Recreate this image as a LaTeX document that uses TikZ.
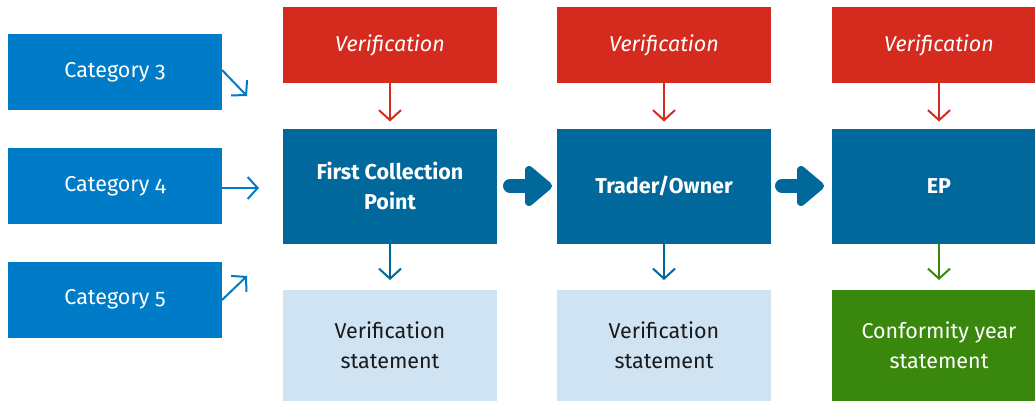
\documentclass[tikz,border=0pt]{standalone}
\usepackage{fontspec}
\setmainfont{Fira Sans}[Numbers=OldStyle]
\usetikzlibrary{arrows.meta}
\definecolor{catblue}{HTML}{007BC7}
\definecolor{darkblue}{HTML}{01689B}
\definecolor{verred}{HTML}{D52B1E}
\definecolor{paleblue}{HTML}{CFE3F3}
\definecolor{rgreen}{HTML}{39870C}
\definecolor{darktext}{HTML}{1A1A1A}
\tikzset{
  box/.style={inner sep=0pt, outer sep=0pt, align=center, font=\fontsize{21.5}{30}\selectfont},
  catbox/.style={box, fill=catblue, text=white, minimum width=214pt, minimum height=76pt},
  verbox/.style={box, fill=verred, text=white, minimum width=214pt, minimum height=76pt, font=\fontsize{21.5}{30}\selectfont\itshape},
  mainbox/.style={box, fill=darkblue, text=white, minimum width=214pt, minimum height=115pt, font=\fontsize{21.5}{30}\selectfont\bfseries},
  resbox/.style={box, fill=paleblue, text=darktext, minimum width=214pt, minimum height=111pt},
  conbox/.style={box, fill=rgreen, text=white, minimum width=214pt, minimum height=111pt},
  thin arrow/.style={line width=2pt, -{Straight Barb[length=10pt,width=22pt,line width=2pt]}},
  bigshaft/.style={line width=14pt, line cap=round, draw=darkblue},
  bighead/.style={fill=darkblue, draw=darkblue, line width=8pt, line join=round},
}
\begin{document}
\begin{tikzpicture}[x=1pt,y=-1pt]
\useasboundingbox (0,0) rectangle (1035,401);
\begin{scope}
\clip (0,0) rectangle (1035,401);

% category boxes on the left
\node[catbox] (c3) at (115,72) {Category 3};
\node[catbox] (c4) at (115,186) {Category 4};
\node[catbox] (c5) at (115,299.5) {Category 5};

% verification boxes
\node[verbox] (v1) at (390,45) {Verification};
\node[verbox] (v2) at (664,45) {Verification};
\node[verbox] (v3) at (939,45) {Verification};

% main chain
\node[mainbox] (m1) at (390,186) {First Collection\\Point};
\node[mainbox] (m2) at (664,186) {Trader/Owner};
\node[mainbox] (m3) at (939,186) {EP};

% statements
\node[resbox] (s1) at (390,345.5) {Verification\\statement};
\node[resbox] (s2) at (664,345.5) {Verification\\statement};
\node[conbox] (s3) at (939,345.5) {Conformity year\\statement};

% category inputs
\coordinate (e3) at (247,96);
\coordinate (e4) at (259,188);
\coordinate (e5) at (247,276);
\draw[thin arrow, catblue] (c3.east |- 0,70) -- (e3);
\draw[thin arrow, catblue] (c4.east |- 0,188) -- (e4);
\draw[thin arrow, catblue] (c5.east |- 0,300) -- (e5);

% verification arrows
\foreach \i in {1,2,3} {
  \draw[thin arrow, verred] (v\i.south) -- ([yshift=7pt]m\i.north);
}

% statement arrows
\draw[thin arrow, darkblue] (m1.south) -- ([yshift=10pt]s1.north);
\draw[thin arrow, darkblue] (m2.south) -- ([yshift=10pt]s2.north);
\draw[thin arrow, rgreen] (m3.south) -- ([yshift=10pt]s3.north);

% thick chain arrows
\draw[bigshaft] ([xshift=13pt]m1.east) -- ([xshift=45pt]m1.east);
\filldraw[bighead] ([xshift=32pt,yshift=-16pt]m1.east) -- ([xshift=51pt]m1.east) -- ([xshift=32pt,yshift=16pt]m1.east) -- cycle;
\draw[bigshaft] ([xshift=11pt]m2.east) -- ([xshift=43pt]m2.east);
\filldraw[bighead] ([xshift=30pt,yshift=-16pt]m2.east) -- ([xshift=49pt]m2.east) -- ([xshift=30pt,yshift=16pt]m2.east) -- cycle;
\end{scope}
\end{tikzpicture}
\end{document}
